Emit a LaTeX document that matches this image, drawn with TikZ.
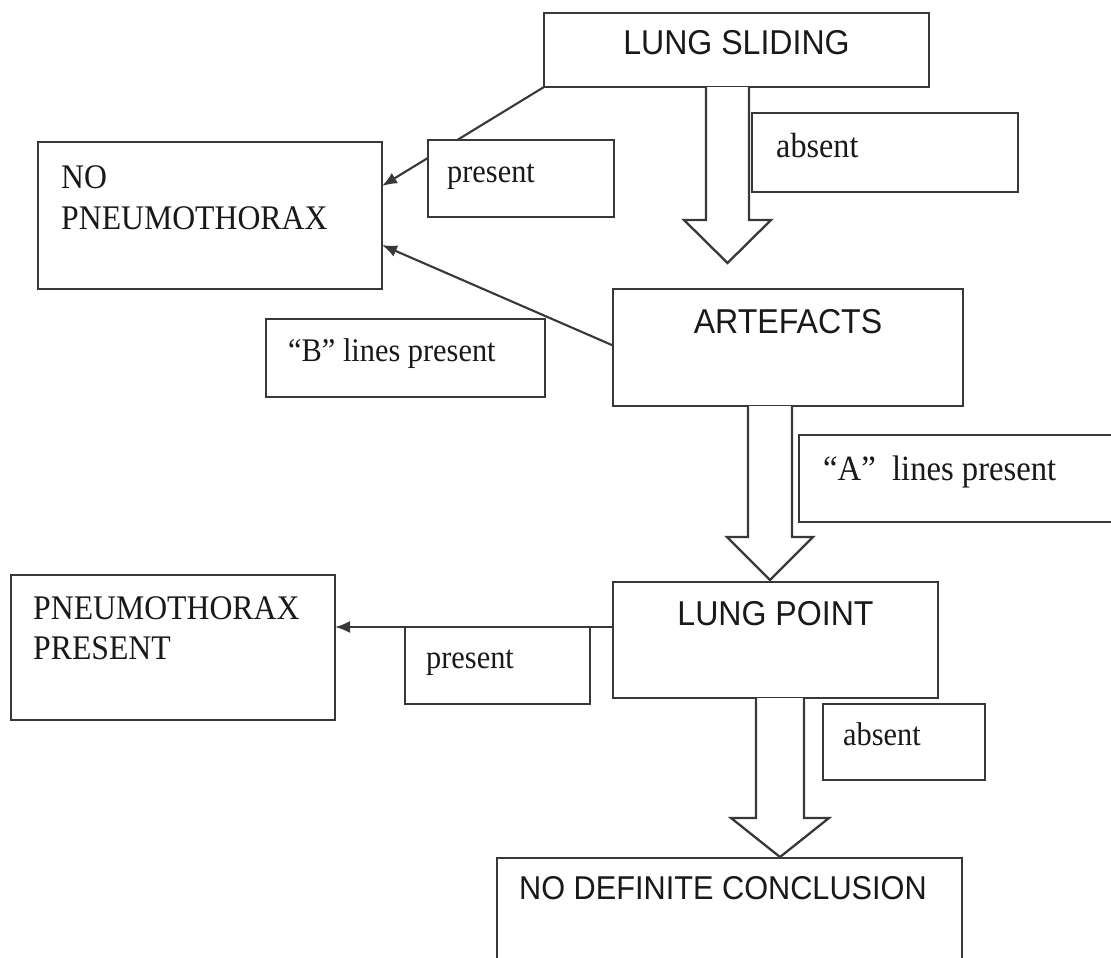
\documentclass[tikz,border=0pt]{standalone}
\usepackage{fontspec}
\setmainfont[FakeStretch=0.92]{Liberation Serif}
\setsansfont[FakeStretch=0.93]{Liberation Sans}
\usetikzlibrary{arrows.meta,fit}
\definecolor{edge}{HTML}{383838}
\begin{document}
\begin{tikzpicture}[x=1pt,y=-1pt,
  box/.style={draw=edge, line width=2.3pt, fill=white, inner sep=0pt, outer sep=0pt},
  sertxt/.style={anchor=base west, inner sep=0pt, text=black!90, font=\fontsize{33}{40}\selectfont},
  bigser/.style={anchor=base west, inner sep=0pt, text=black!90, font=\fontsize{34.5}{40}\selectfont},
  santxt/.style={anchor=base, inner sep=0pt, text=black!90, font=\sffamily\fontsize{34.5}{40}\selectfont},
  conn/.style={draw=edge, line width=2.1pt, -{Latex[length=15pt,width=12pt]}},
  hollow/.style={draw=edge, line width=2.3pt, fill=white, line join=miter}]
\useasboundingbox (0,0) rectangle (1111,958);
\fill[white] (0,0) rectangle (1111,958);

% main boxes
\node[box, fit={(544,13) (929,87)}] (ls) {};
\node[box, fit={(38,142) (382,289)}] (nop) {};
\node[box, fit={(613,289) (963,406)}] (art) {};
\node[box, fit={(11,575) (335,720)}] (pp) {};
\node[box, fit={(613,582) (938,698)}] (lp) {};
\node[box, fit={(497,858) (962,965)}] (ndc) {};

% connectors
\coordinate (t1) at (382,186);
\coordinate (t2) at (382,245);
\coordinate (s3) at (613,627);
\draw[conn] (ls.south west) -- (t1);
\draw[conn] (art.west) ++(0,-2) -- (t2);
\draw[conn] (s3) -- (pp.east |- s3);

% hollow block arrows
\filldraw[hollow] (706,87) -- (706,220) -- (684,220) -- (727.5,263) -- (771,220) -- (749,220) -- (749,87);
\filldraw[hollow] (748,406) -- (748,537) -- (727,537) -- (770,580) -- (813,537) -- (792,537) -- (792,406);
\filldraw[hollow] (756,698) -- (756,818) -- (731,818) -- (780,857) -- (829,818) -- (804,818) -- (804,698);

% label boxes
\node[box, fit={(752,113) (1018,192)}] (lab1) {};
\node[box, fit={(428,140) (614,217)}] (lpr1) {};
\node[box, fit={(266,319) (545,397)}] (lbl) {};
\node[box, fit={(799,435) (1120,522)}] (lal) {};
\node[box, fit={(405,627) (590,704)}] (lpr2) {};
\node[box, fit={(823,704) (985,780)}] (lab2) {};

% texts
\node[santxt] (tls) at (736.5,55) {LUNG SLIDING};
\node[sertxt, font=\fontsize{35}{40}\selectfont] (tab1) at (776,157) {absent};
\node[sertxt] (tpr1) at (447,182) {present};
\node[bigser] (tnp1) at (61,188) {NO};
\node[bigser] (tnp2) at (61,229) {PNEUMOTHORAX};
\node[sertxt] (tbl) at (288,361) {“B” lines present};
\node[santxt] (tart) at (788,333) {ARTEFACTS};
\node[sertxt, font=\fontsize{35.5}{40}\selectfont] (tal) at (823,480) {“A”~~lines present};
\node[bigser] (tpp1) at (33,619) {PNEUMOTHORAX};
\node[bigser] (tpp2) at (33,659) {PRESENT};
\node[santxt] (tlp) at (775.5,625) {LUNG POINT};
\node[sertxt] (tpr2) at (426,668) {present};
\node[sertxt] (tab2) at (843,745) {absent};
\node[santxt, anchor=base west, font=\sffamily\fontsize{33}{40}\selectfont] (tndc) at (519,899) {NO DEFINITE CONCLUSION};
\end{tikzpicture}
\end{document}
